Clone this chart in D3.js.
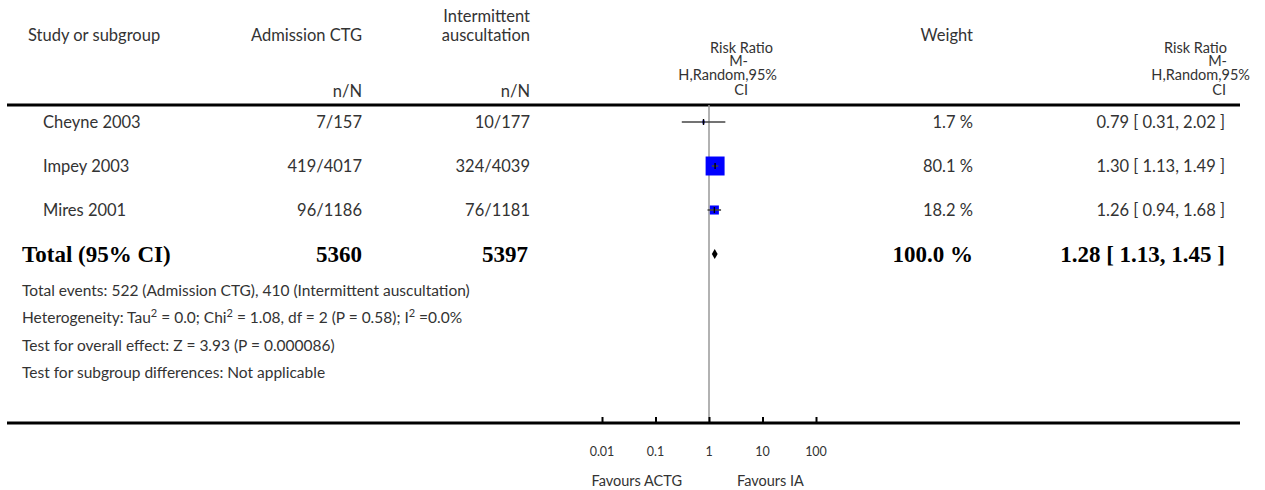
<!DOCTYPE html>
<html lang="en">
<head>
    <meta charset="UTF-8">
    <title>Forest plot - Admission CTG vs Intermittent auscultation</title>
    <script src="https://cdn.jsdelivr.net/npm/d3@7"></script>
    <style>
        body { margin: 0; background: #fff; }
        svg text { font-family: "Gill Sans", "Lato", "Open Sans", sans-serif; fill: #333; }
        svg text.bold { font-family: "Liberation Serif", "Times New Roman", serif; font-weight: bold; fill: #000; }
    </style>
</head>
<body>
    <div id="chart"></div>

    <script>
        // Study rows
        const studies = ['Cheyne 2003', 'Impey 2003', 'Mires 2001'];
        const ctgEvents = ['7/157', '419/4017', '96/1186'];
        const iaEvents = ['10/177', '324/4039', '76/1181'];
        const weights = [1.7, 80.1, 18.2];
        const riskRatio = [0.79, 1.30, 1.26];
        const ciLow = [0.31, 1.13, 0.94];
        const ciHigh = [2.02, 1.49, 1.68];

        // Pooled result
        const totalLabel = 'Total (95% CI)';
        const totalCtg = '5360';
        const totalIa = '5397';
        const totalWeight = 100.0;
        const totalRR = 1.28;
        const totalLow = 1.13;
        const totalHigh = 1.45;

        // Axis
        const tickValues = [0.01, 0.1, 1, 10, 100];
        const tickLabels = ['0.01', '0.1', '1', '10', '100'];
        const favourLeft = 'Favours ACTG';
        const favourRight = 'Favours IA';

        // Footnote lines as [text, isSuperscript] pieces
        const footnotes = [
            [['Total events: 522 (Admission CTG), 410 (Intermittent auscultation)', false]],
            [['Heterogeneity: Tau', false], ['2', true], [' = 0.0; Chi', false], ['2', true],
             [' = 1.08, df = 2 (P = 0.58); I', false], ['2', true], [' =0.0%', false]],
            [['Test for overall effect: Z = 3.93 (P = 0.000086)', false]],
            [['Test for subgroup differences: Not applicable', false]]
        ];

        const width = 1265, height = 490;
        const svg = d3.select('#chart').append('svg')
            .attr('width', width)
            .attr('height', height);

        // log scale for the risk ratio panel (1 sits at x=709)
        const x = d3.scaleLog().domain([0.01, 100]).range([602, 816]);
        const boxSize = d3.scaleSqrt().domain([0, 100]).range([0, 21.2]);
        const rowY = d3.scalePoint().domain(d3.range(4)).range([122, 254]);

        const fmt2 = d3.format('.2f');
        const fmtW = d => d3.format('.1f')(d) + ' %';

        // ---- header ----
        const head = svg.append('g').attr('font-size', '16.5px');
        function htext(t, xx, yy, anchor, size) {
            const el = head.append('text').attr('x', xx).attr('y', yy)
                .attr('text-anchor', anchor || 'end').text(t);
            if (size) el.attr('font-size', size);
        }
        htext('Study or subgroup', 28, 41, 'start');
        htext('Admission CTG', 362, 41);
        htext('n/N', 362, 97);
        htext('Intermittent', 530, 22);
        htext('auscultation', 530, 41);
        htext('n/N', 530, 97);
        htext('Weight', 973, 41);

        // stacked "Risk Ratio / M- / H,Random,95% / CI" headers
        const rrHead = ['Risk Ratio', 'M-', 'H,Random,95%', 'CI'];
        const rrHeadY = [52.5, 66, 79.5, 94.5];
        const rrMidX = [773, 748, 777, 748];
        const rrRightX = [1227, 1227, 1250, 1226];
        rrHead.forEach((t, i) => {
            htext(t, rrMidX[i], rrHeadY[i], 'end', '14.5px');
            htext(t, rrRightX[i], rrHeadY[i], 'end', '14.5px');
        });

        svg.append('line')
            .attr('x1', 7).attr('x2', 1240)
            .attr('y1', 105).attr('y2', 105)
            .attr('stroke', '#000').attr('stroke-width', 3);

        // line of no effect
        svg.append('line')
            .attr('x1', x(1)).attr('x2', x(1))
            .attr('y1', 105).attr('y2', 423)
            .attr('stroke', '#999').attr('stroke-width', 1.5);

        // ---- study rows ----
        const rows = svg.append('g').attr('font-size', '16.5px');
        studies.forEach((s, i) => {
            const y = rowY(i);
            rows.append('text').attr('x', 43).attr('y', y + 6).text(s);
            rows.append('text').attr('x', 362).attr('y', y + 6).attr('text-anchor', 'end').text(ctgEvents[i]);
            rows.append('text').attr('x', 530).attr('y', y + 6).attr('text-anchor', 'end').text(iaEvents[i]);
            rows.append('text').attr('x', 973).attr('y', y + 6).attr('text-anchor', 'end').text(fmtW(weights[i]));
            rows.append('text').attr('x', 1225).attr('y', y + 6).attr('text-anchor', 'end')
                .text(`${fmt2(riskRatio[i])} [ ${fmt2(ciLow[i])}, ${fmt2(ciHigh[i])} ]`);

            const b = boxSize(weights[i]);
            svg.append('rect')
                .attr('x', x(riskRatio[i]) - b / 2).attr('y', y - b / 2)
                .attr('width', b).attr('height', b)
                .attr('fill', '#0000ff');
            svg.append('line')
                .attr('x1', x(ciLow[i])).attr('x2', x(ciHigh[i]))
                .attr('y1', y).attr('y2', y)
                .attr('stroke', '#444').attr('stroke-width', 1.6);
            svg.append('line')
                .attr('x1', x(riskRatio[i])).attr('x2', x(riskRatio[i]))
                .attr('y1', y - 3).attr('y2', y + 3)
                .attr('stroke', '#000').attr('stroke-width', 1.4);
        });

        // ---- total row ----
        const ty = rowY(3);
        const tot = svg.append('g').attr('font-size', '23px');
        tot.append('text').attr('class', 'bold').attr('x', 22).attr('y', ty + 8).text(totalLabel);
        tot.append('text').attr('class', 'bold').attr('x', 362).attr('y', ty + 8).attr('text-anchor', 'end').text(totalCtg);
        tot.append('text').attr('class', 'bold').attr('x', 528).attr('y', ty + 8).attr('text-anchor', 'end').text(totalIa);
        tot.append('text').attr('class', 'bold').attr('x', 973).attr('y', ty + 8).attr('text-anchor', 'end').text(fmtW(totalWeight));
        tot.append('text').attr('class', 'bold').attr('x', 1225).attr('y', ty + 8).attr('text-anchor', 'end')
            .text(`${fmt2(totalRR)} [ ${fmt2(totalLow)}, ${fmt2(totalHigh)} ]`);

        const dh = 5;
        svg.append('path')
            .attr('d', `M${x(totalLow)},${ty} L${x(totalRR)},${ty - dh} L${x(totalHigh)},${ty} L${x(totalRR)},${ty + dh} Z`)
            .attr('fill', '#000');

        // ---- footnotes ----
        const foot = svg.append('g').attr('font-size', '15.5px');
        footnotes.forEach((parts, i) => {
            const t = foot.append('text').attr('x', 22).attr('y', 296 + i * 27.3);
            let raised = false;
            parts.forEach(([txt, sup]) => {
                const sp = t.append('tspan').text(txt);
                if (sup && !raised) sp.attr('dy', -6);
                if (!sup && raised) sp.attr('dy', 6);
                if (sup) sp.attr('font-size', '11px');
                raised = sup;
            });
        });

        // ---- axis ----
        svg.append('line')
            .attr('x1', 7).attr('x2', 1240)
            .attr('y1', 423).attr('y2', 423)
            .attr('stroke', '#000').attr('stroke-width', 3);

        const axis = d3.axisTop(x)
            .tickValues(tickValues)
            .tickSize(6)
            .tickFormat('');
        const ag = svg.append('g')
            .attr('transform', 'translate(0,423)')
            .call(axis);
        ag.select('.domain').remove();
        ag.selectAll('.tick line').attr('stroke', '#000').attr('stroke-width', 2);

        svg.append('g').attr('font-size', '12.5px')
            .selectAll('text').data(tickValues).join('text')
            .attr('x', d => x(d)).attr('y', 456)
            .attr('text-anchor', 'middle')
            .text((d, i) => tickLabels[i]);

        svg.append('text').attr('font-size', '14.5px')
            .attr('x', x(1) - 27).attr('y', 486).attr('text-anchor', 'end').text(favourLeft);
        svg.append('text').attr('font-size', '14.5px')
            .attr('x', x(1) + 28).attr('y', 486).attr('text-anchor', 'start').text(favourRight);
    </script>
</body>
</html>
